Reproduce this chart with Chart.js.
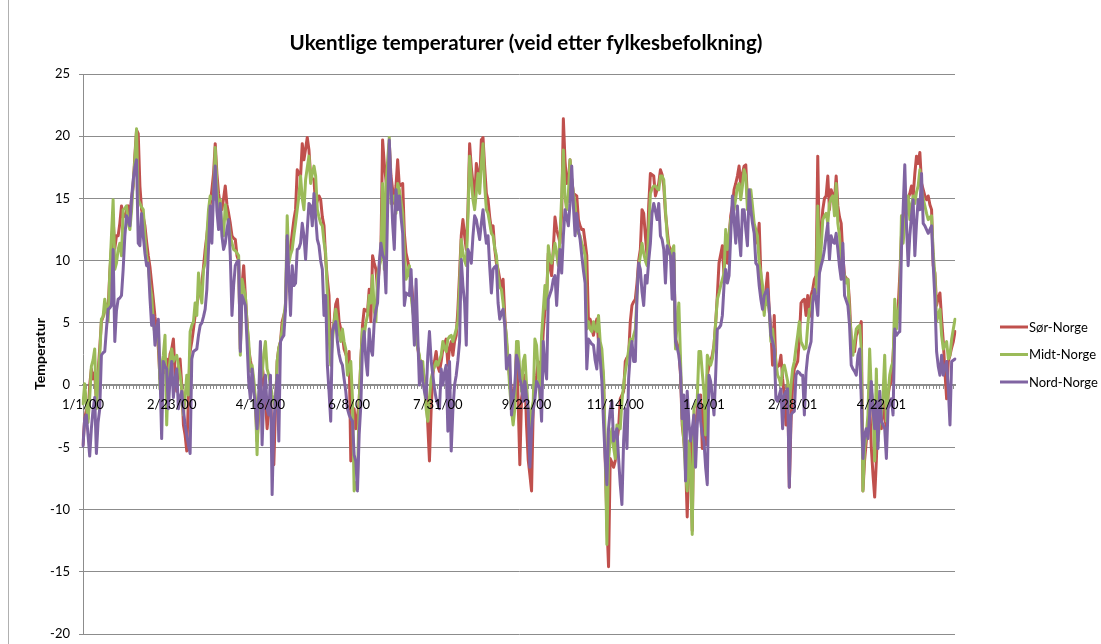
<!DOCTYPE html>
<html><head><meta charset="utf-8">
<script src="https://cdn.jsdelivr.net/npm/chart.js@4.4.1/dist/chart.umd.min.js"></script>
<style>html,body{margin:0;padding:0;background:#fff;overflow:hidden;} canvas{display:block;}</style>
</head><body>
<canvas id="c" width="1101" height="644"></canvas>
<script>
const TITLE = 'Ukentlige temperaturer (veid etter fylkesbefolkning)';
const Y_TITLE = 'Temperatur';
const SERIES_NAMES = ['Sør-Norge', 'Midt-Norge', 'Nord-Norge'];
const TICK_LABELS = ['1/1/00','2/23/00','4/16/00','6/8/00','7/31/00','9/22/00','11/14/00','1/6/01','2/28/01','4/22/01'];
const TICK_STEP = 53;
const Y_TICKS = [-20, -15, -10, -5, 0, 5, 10, 15, 20, 25];

const sor = [
-4.8,-2.7,-2.0,-2.7,0.0,1.3,0.5,1.0,-1.3,1.0,
3.0,5.1,5.5,6.0,6.5,6.1,9.0,11.0,13.3,11.0,
12.0,12.0,13.0,14.4,13.5,13.6,14.0,14.4,13.5,15.0,
16.0,18.5,20.5,20.2,16.0,14.1,13.5,12.8,11.5,10.4,
9.5,8.2,6.9,5.5,4.5,3.0,0.5,1.6,2.0,1.0,
2.1,1.0,2.5,2.9,3.7,1.0,-0.5,1.5,2.1,0.0,
-3.2,-4.0,-5.3,-1.0,2.7,3.5,4.5,5.6,6.5,7.2,
7.5,8.2,9.5,10.9,12.0,13.3,14.5,15.7,17.0,19.4,
17.0,15.4,14.5,14.1,15.0,16.0,14.5,13.8,13.0,12.0,
11.8,11.7,10.4,10.0,2.9,8.0,9.6,7.2,5.0,2.9,
2.0,1.3,0.0,-1.3,-4.5,-2.5,-1.1,1.6,0.5,-1.1,
-3.5,-2.0,-0.8,-4.0,-6.4,-2.0,1.9,3.0,3.5,5.1,
5.6,6.1,11.7,10.1,11.0,12.2,13.3,14.1,17.3,17.0,
16.8,19.4,18.1,19.0,19.9,18.9,16.8,16.6,16.5,14.4,
14.8,15.2,14.9,13.5,12.8,10.1,8.5,7.2,1.9,4.0,
5.1,6.5,6.9,5.1,4.5,4.0,2.9,2.5,2.1,2.7,
-6.1,-4.0,-1.9,-3.5,-2.5,-1.3,2.0,4.8,6.1,6.0,
5.9,7.7,5.1,10.4,9.8,9.3,7.7,9.5,10.9,19.7,
17.8,16.5,15.2,19.4,16.8,15.7,14.6,16.0,18.1,16.0,
16.1,16.2,12.2,10.6,10.0,9.3,8.5,7.0,5.6,4.0,
3.0,2.1,1.9,1.3,0.5,-0.3,-3.2,-6.1,-2.0,0.8,
1.9,2.7,1.5,1.1,1.9,2.9,3.3,3.7,1.6,3.0,
3.5,2.4,3.5,4.0,6.1,9.0,12.0,13.3,12.0,10.9,
14.1,19.4,17.5,16.2,14.6,17.8,17.0,16.2,19.7,19.9,
17.5,15.4,14.9,13.5,12.5,12.8,11.0,9.8,9.3,8.5,
7.7,8.5,5.5,3.5,1.9,0.5,-0.3,-1.0,-1.3,2.9,
-1.3,-6.4,-1.1,0.0,0.8,-3.2,-6.0,-7.2,-8.5,-1.9,
0.0,0.8,1.9,1.7,1.6,4.3,6.0,7.2,10.6,9.5,
8.8,10.9,13.5,12.5,12.0,11.4,13.8,21.4,18.0,16.2,
16.5,18.1,16.5,15.4,15.3,15.2,13.3,12.8,12.5,12.5,
11.5,10.4,5.1,5.3,4.6,4.0,4.8,5.3,3.5,2.5,
1.9,0.5,-5.9,-11.0,-14.6,-5.9,-6.2,-6.6,-6.1,-4.5,
-3.5,-1.1,-0.8,-0.5,1.9,2.2,2.4,5.1,6.4,6.7,
6.9,8.2,10.0,10.9,14.1,13.8,12.0,10.4,14.4,17.0,
16.9,16.8,15.2,15.7,16.2,17.3,16.9,16.0,13.8,12.5,
11.2,10.9,10.5,10.1,3.7,3.3,2.9,0.8,-3.2,-4.5,
-6.0,-10.6,-5.6,-4.5,-11.7,-2.5,-3.5,-1.9,-1.0,-0.8,
-5.1,-1.9,-4.8,0.8,1.5,1.9,2.4,3.2,5.0,7.2,
9.8,10.5,11.2,8.8,12.0,9.8,12.0,13.6,14.4,15.7,
16.2,16.8,17.6,16.0,17.0,17.6,17.7,14.9,14.5,14.1,
13.8,12.5,12.0,11.4,13.0,8.8,7.0,5.9,7.7,9.0,
6.0,4.5,1.6,5.6,1.3,1.5,1.6,2.4,0.5,-0.8,
-3.2,0.0,-8.2,-3.0,0.0,1.3,1.6,1.9,3.7,6.6,
6.8,6.9,5.6,7.2,5.5,7.2,7.7,8.5,8.8,18.4,
10.6,12.2,14.1,15.0,15.2,16.8,14.1,15.7,15.2,14.9,
16.8,14.4,13.5,13.0,10.4,8.8,8.6,8.5,6.6,3.5,
3.0,2.7,4.0,4.3,4.5,5.1,-8.5,-6.0,-4.5,-3.5,
-1.3,-5.0,-7.2,-9.0,-6.1,-2.4,-3.0,-3.5,-1.3,-2.5,
-3.5,-0.8,0.0,0.3,2.4,4.8,5.5,6.1,8.8,12.0,
13.6,13.3,14.6,15.0,15.4,16.0,15.2,17.0,18.4,17.8,
18.7,16.2,15.7,15.2,14.9,15.2,14.5,14.1,9.6,9.0,
6.4,7.0,7.4,5.3,3.5,1.0,-1.1,1.9,2.4,3.0,
3.5,4.3
];

const midt = [
-1.5,0.1,-1.5,-3.0,-1.0,1.5,2.0,2.9,-1.9,0.5,
2.4,5.3,5.5,6.9,6.0,5.1,9.0,12.0,14.9,9.3,
9.8,10.9,11.4,10.4,14.1,14.2,14.4,13.0,12.5,14.0,
16.2,18.1,20.6,14.9,14.6,14.3,14.1,12.0,10.4,9.6,
8.0,7.2,5.1,4.0,4.5,4.8,-0.3,1.5,2.4,4.0,
-3.2,1.0,1.9,2.9,1.9,2.2,2.4,1.6,0.8,-0.3,
-2.4,-1.0,0.8,-0.8,4.3,4.8,5.1,6.6,5.6,9.0,
7.5,6.6,9.3,9.8,12.0,14.1,15.2,15.0,14.9,19.1,
16.0,14.1,14.9,12.5,12.0,14.5,13.5,13.0,12.0,11.4,
10.9,10.8,10.6,10.4,2.4,8.5,7.8,7.2,5.0,3.5,
1.1,1.6,0.5,-1.1,-5.6,-1.1,0.5,0.8,2.5,3.5,
1.3,0.8,0.0,-0.8,-1.3,-1.9,1.9,3.0,3.5,4.5,
5.5,6.6,13.6,9.8,10.5,10.9,12.0,13.0,14.1,15.2,
16.8,15.0,14.1,16.5,17.5,18.4,16.2,17.0,17.6,16.8,
14.1,13.5,13.0,12.8,11.5,10.6,7.2,4.0,1.6,3.5,
5.0,6.1,5.1,4.2,3.5,4.5,3.5,2.9,0.8,1.5,
1.9,-1.1,-8.5,-8.0,-7.7,-1.3,2.0,4.5,4.0,5.0,
5.6,7.2,6.6,8.8,6.0,5.1,8.8,9.5,10.1,16.2,
9.3,16.0,18.0,19.9,14.6,15.0,15.2,13.8,16.2,15.7,
14.8,13.8,10.9,8.5,9.0,9.6,7.2,6.0,5.1,3.7,
3.0,2.4,0.8,1.9,0.0,-1.9,-2.9,-1.0,0.5,1.1,
1.5,1.9,1.6,2.0,2.4,3.5,3.0,2.7,3.7,3.9,
4.0,3.5,4.0,4.5,5.1,8.0,11.7,10.6,10.0,9.6,
13.6,18.4,16.5,14.9,14.1,15.5,17.0,15.4,17.8,19.4,
16.0,14.1,13.8,13.0,12.2,12.0,11.0,10.4,8.8,7.9,
7.7,6.6,5.0,4.0,1.9,-0.3,-2.0,-3.2,-1.9,3.5,
3.5,1.0,-0.5,1.9,2.4,0.0,-1.9,-4.0,-2.0,-1.3,
3.7,3.2,1.0,-1.1,4.0,6.0,8.0,6.1,11.2,10.2,
9.8,10.6,11.4,10.5,9.6,12.0,15.2,18.9,15.0,14.1,
15.4,18.1,16.5,15.4,14.6,12.5,12.2,12.0,11.4,11.0,
10.4,4.5,5.1,4.5,4.3,5.1,4.5,4.3,5.6,3.5,
2.9,0.8,-4.5,-12.8,-6.0,-4.5,-3.5,-5.0,-5.9,-3.2,
-3.3,-3.5,-1.3,0.0,1.1,1.9,2.8,3.7,3.5,4.0,
4.5,7.2,9.5,10.4,11.4,10.6,10.0,9.6,12.5,15.4,
15.8,16.0,16.0,15.8,15.7,16.8,16.8,16.5,14.1,12.0,
10.9,10.4,10.8,11.2,2.9,5.0,6.6,2.1,-2.7,-4.5,
-7.0,-8.5,-4.5,-7.2,-12.0,-1.9,-1.5,-1.1,2.7,2.7,
1.0,-0.5,-4.0,2.4,2.0,1.6,2.1,3.2,5.0,6.9,
7.4,8.0,8.5,9.0,12.5,10.9,12.0,13.3,13.8,14.1,
15.0,16.0,16.2,14.9,16.0,17.3,16.8,14.1,15.0,15.7,
14.4,13.0,12.5,12.0,9.8,9.0,8.0,5.6,7.2,6.6,
6.1,3.5,4.5,3.0,1.9,0.8,0.5,0.0,1.3,1.6,
1.0,0.3,-1.9,0.0,1.3,1.9,3.0,4.0,5.1,3.5,
3.2,2.9,3.0,4.8,6.1,6.1,7.2,7.3,7.4,14.4,
9.0,10.9,13.3,13.6,13.8,13.0,14.6,15.0,15.2,13.6,
16.2,13.0,12.0,9.8,9.3,8.8,8.2,8.5,5.6,4.0,
2.4,3.5,4.5,4.7,4.8,2.9,-8.5,-5.0,-4.0,-2.4,
2.9,-0.5,-1.3,-6.1,1.3,-4.5,-3.0,-2.4,-0.8,2.4,
-2.9,-0.8,0.8,1.5,1.9,6.9,4.5,5.8,6.6,13.6,
11.4,13.0,13.8,15.2,13.3,14.5,15.2,14.6,15.5,16.0,
17.3,15.7,15.0,14.4,13.8,13.3,13.5,13.6,10.6,8.8,
5.1,5.6,6.1,4.0,2.9,3.2,3.5,2.1,2.4,3.7,
4.5,5.3
];

const nord = [
-4.9,-2.7,-2.4,-4.0,-5.7,-3.5,-2.0,-1.0,-5.5,-3.0,
-1.9,2.4,2.6,2.7,4.5,6.1,6.2,6.4,10.9,3.5,
6.0,6.9,7.0,7.2,9.3,12.0,13.6,13.3,12.8,15.0,
16.5,17.5,18.1,11.4,11.2,13.8,12.0,10.6,9.6,9.8,
7.0,4.8,5.6,3.2,4.5,5.3,1.0,-4.3,1.9,1.5,
1.3,-1.9,0.5,1.9,-1.0,0.5,1.3,-1.9,-1.0,-0.5,
-2.0,-3.2,-4.0,-4.8,-5.5,2.1,2.7,2.8,2.9,4.0,
4.8,5.0,5.5,6.1,7.7,11.0,14.4,11.4,15.4,17.6,
14.0,12.5,14.6,12.0,10.9,11.4,12.5,13.3,10.4,5.6,
8.0,9.6,9.9,10.0,2.7,7.2,6.8,6.4,3.5,0.3,
-1.1,1.3,-0.5,-1.6,-3.5,-0.8,3.5,-4.8,-1.0,0.8,
-1.9,-2.4,0.8,-8.8,-3.2,-1.0,0.8,-4.5,3.5,3.8,
4.0,6.1,12.0,8.8,5.6,9.6,8.0,8.2,10.9,11.0,
11.4,13.0,12.0,10.1,12.5,14.6,14.4,12.8,15.4,13.5,
11.7,11.2,10.0,9.3,5.6,7.2,1.6,-0.5,-2.9,4.3,
4.8,5.1,3.5,2.5,1.9,1.6,0.5,-0.5,-1.9,-2.4,
-2.7,-2.9,-5.6,-6.1,-8.5,-4.0,-1.6,3.2,4.3,2.0,
0.8,4.5,2.9,2.4,5.1,6.0,6.6,9.8,11.4,10.5,
10.1,7.4,14.1,19.7,16.2,13.0,10.9,15.7,14.1,15.2,
13.5,12.2,6.4,7.4,7.3,7.2,9.3,6.0,3.2,8.5,
4.0,0.0,1.9,0.3,-0.5,-1.1,2.4,4.3,2.0,0.8,
-0.3,-1.1,-1.5,-1.9,1.3,0.0,1.0,1.6,-3.7,1.9,
-5.3,-2.0,0.0,0.8,2.0,3.5,10.1,8.0,6.6,3.2,
10.9,10.5,9.8,12.0,13.6,13.3,12.5,11.7,13.0,14.1,
12.5,11.4,12.0,9.5,7.4,9.3,9.5,9.6,6.6,5.3,
5.8,6.1,4.8,1.3,2.0,2.4,-2.4,-1.1,0.0,2.4,
1.9,0.5,0.0,-1.3,0.3,-1.0,-1.9,-6.6,-3.7,-2.0,
-1.1,0.3,0.0,-0.3,-2.9,3.5,1.5,0.5,6.9,7.3,
7.7,8.5,8.8,6.4,9.0,10.9,9.0,12.0,14.1,13.5,
12.8,14.6,17.6,14.4,12.0,13.8,12.5,11.7,10.4,9.2,
8.2,1.3,3.7,3.5,3.3,3.2,2.0,1.3,3.7,2.1,
0.3,-3.0,-5.9,-8.0,-3.5,-2.0,-1.3,-4.5,-4.0,-3.5,
-5.9,-8.0,-9.6,-4.5,-1.9,-5.1,0.5,2.5,3.5,1.9,
1.9,7.2,9.8,9.3,7.5,6.4,8.8,8.2,10.0,11.4,
13.8,14.6,14.0,13.3,14.6,12.0,11.7,10.9,8.2,11.2,
10.8,10.4,6.9,10.6,3.5,3.0,2.4,1.1,-2.7,-0.8,
-7.7,-0.5,-3.0,-4.5,-3.5,-2.4,-6.6,-3.2,-0.8,-2.9,
-4.0,-4.5,-6.6,-8.0,0.8,0.3,-1.0,-2.4,0.8,4.5,
4.6,4.8,5.6,8.0,9.3,8.2,8.8,12.0,15.2,13.3,
11.4,14.4,12.0,10.4,14.1,14.1,12.5,11.2,15.7,14.1,
13.0,12.2,9.8,9.6,8.0,6.9,6.1,7.2,7.5,7.7,
6.1,4.0,3.5,2.9,-1.1,-1.3,-0.8,-0.3,-3.5,-0.8,
-0.5,-0.3,-8.2,-2.4,-2.2,-2.1,0.8,1.1,1.0,0.8,
0.8,-2.4,1.0,2.4,3.0,3.5,6.6,7.7,6.9,5.6,
9.0,9.6,10.1,10.9,12.0,13.0,10.1,12.0,11.5,11.4,
12.2,10.9,9.5,8.5,11.4,7.2,6.8,6.4,4.8,1.6,
1.3,1.1,0.8,2.4,2.9,-1.1,-5.9,-4.0,-3.5,-4.3,
-2.4,0.3,-2.0,-3.5,-1.3,-5.1,-0.5,-2.9,-3.2,-3.5,
-5.9,-1.9,-1.5,-1.1,-2.4,4.5,4.0,4.2,4.3,10.9,
14.1,17.7,13.0,9.6,12.0,13.6,14.9,10.4,13.0,14.9,
14.1,17.0,13.0,12.8,12.5,12.2,12.5,12.8,9.6,6.9,
2.7,1.5,0.8,2.4,0.8,1.5,1.9,-0.3,-3.2,1.9,
2.0,2.1
];

// one category per day from 1/1/00 (date axis); a label is shown every 53 days
const START_DAY = Date.UTC(2000, 0, 1);
const categories = sor.map((_, i) => {
  const d = new Date(START_DAY + i * 86400000);
  return (d.getUTCMonth() + 1) + '/' + d.getUTCDate() + '/' + String(d.getUTCFullYear()).slice(2);
});

const COLORS = ['#C0504D', '#9BBB59', '#8064A2'];
const FONT = 'Lato, "Open Sans", sans-serif';
const AXIS_GRAY = '#8c8c8c';

const decor = {
  id: 'decor',
  beforeDraw(chart) {
    const ctx = chart.ctx;
    ctx.save();
    ctx.fillStyle = '#ffffff';
    ctx.fillRect(0, 0, chart.width, chart.height);
    ctx.strokeStyle = '#b0b0b0';
    ctx.lineWidth = 1;
    ctx.beginPath();
    ctx.moveTo(8.5, 0); ctx.lineTo(8.5, chart.height);
    ctx.stroke();
    ctx.restore();
  },
  afterDraw(chart) {
    const ctx = chart.ctx;
    ctx.save();
    let size = 20;
    ctx.font = 'bold ' + size + 'px ' + FONT;
    const w = ctx.measureText(TITLE).width;
    size = size * 473 / w;
    ctx.font = 'bold ' + size.toFixed(2) + 'px ' + FONT;
    ctx.fillStyle = '#000';
    ctx.textAlign = 'center';
    ctx.textBaseline = 'middle';
    ctx.fillText(TITLE, 526, 43);
    ctx.font = '13px ' + FONT;
    ctx.textAlign = 'left';
    chart.data.datasets.forEach((ds, i) => {
      const y = 327 + i * 27.5;
      ctx.strokeStyle = ds.borderColor;
      ctx.lineWidth = 3;
      ctx.beginPath();
      ctx.moveTo(1000, y); ctx.lineTo(1028, y);
      ctx.stroke();
      ctx.fillStyle = '#000';
      ctx.fillText(ds.label, 1029, y + 0.5);
    });
    ctx.restore();
  }
};

new Chart(document.getElementById('c'), {
  type: 'line',
  data: {
    labels: categories,
    datasets: [sor, midt, nord].map((vals, i) => ({
      label: SERIES_NAMES[i],
      data: vals,
      borderColor: COLORS[i],
      backgroundColor: COLORS[i],
      borderWidth: 3,
      pointRadius: 0,
      tension: 0,
      fill: false,
      order: 3 - i,
      borderJoinStyle: 'round',
      borderCapStyle: 'round'
    }))
  },
  options: {
    responsive: false,
    animation: false,
    devicePixelRatio: 1,
    layout: { padding: { top: 74, right: 146, bottom: 10, left: 0 } },
    plugins: {
      legend: { display: false },
      title: { display: false },
      tooltip: { enabled: false }
    },
    scales: {
      x: {
        type: 'category',
        position: { y: 0 },
        offset: false,
        afterFit: (s) => { s.paddingTop = 0; s.paddingBottom = 0; },
        grid: {
          drawOnChartArea: false,
          drawTicks: true,
          tickLength: 3,
          tickWidth: 1,
          tickColor: (c) => (c.index % 2 === 0 ? AXIS_GRAY : 'rgba(0,0,0,0)')
        },
        border: { display: true, color: AXIS_GRAY, width: 2 },
        ticks: {
          z: 1,
          autoSkip: false,
          maxRotation: 0,
          minRotation: 0,
          padding: 9,
          color: '#000',
          font: { family: FONT, size: 13 },
          callback: (v, i) => (i % TICK_STEP === 0 ? TICK_LABELS[i / TICK_STEP] : '')
        }
      },
      y: {
        min: Y_TICKS[0],
        max: Y_TICKS[Y_TICKS.length - 1],
        afterFit: (s) => { s.width = 83; s.paddingTop = 0; s.paddingBottom = 0; },
        afterBuildTicks: (s) => { s.ticks = Y_TICKS.map(v => ({ value: v })); },
        grid: { color: AXIS_GRAY, lineWidth: 1, drawTicks: true, tickLength: 4, tickColor: AXIS_GRAY },
        border: { display: true, color: AXIS_GRAY, width: 1 },
        ticks: { padding: 9, color: '#000', font: { family: FONT, size: 13 } },
        title: {
          display: true,
          text: Y_TITLE,
          color: '#000',
          font: { family: FONT, size: 14, weight: 'bold' },
          padding: { top: 32, bottom: 0 }
        }
      }
    }
  },
  plugins: [decor]
});
</script>
</body></html>
